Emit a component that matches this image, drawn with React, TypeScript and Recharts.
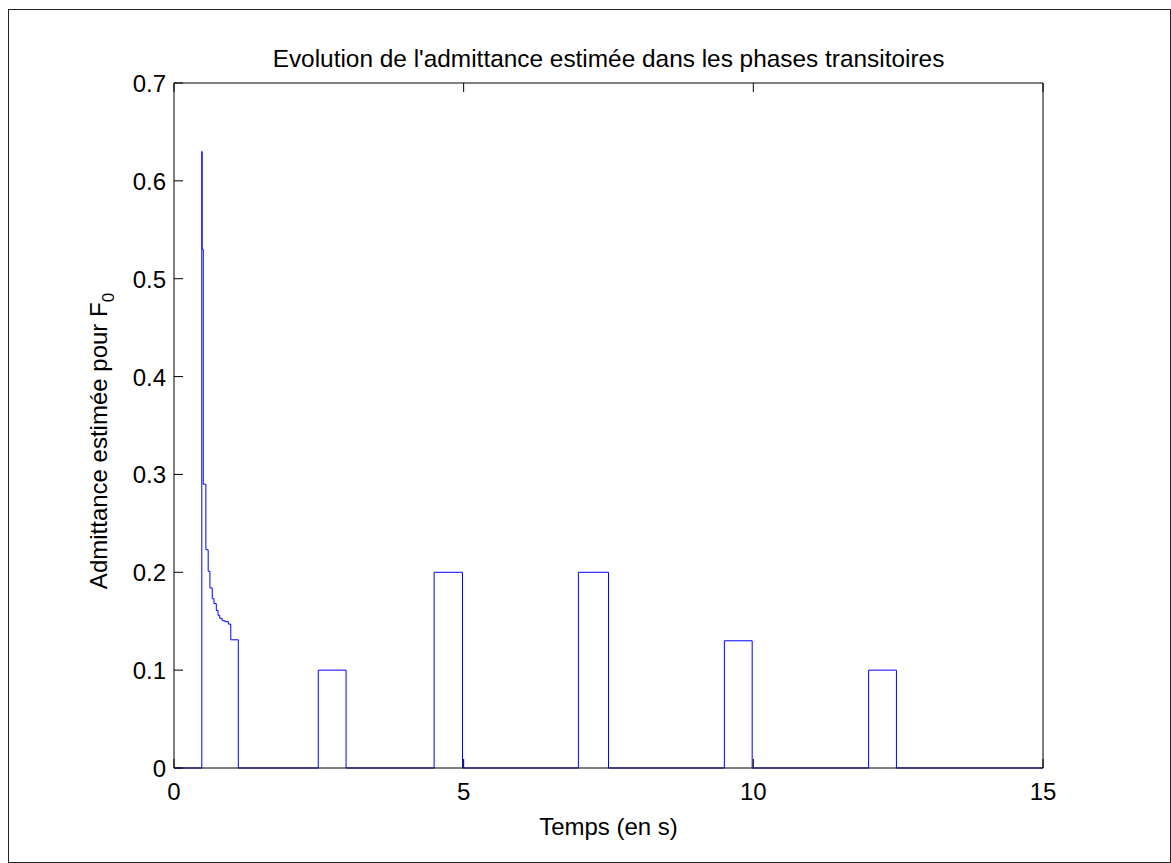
import { LineChart, Line, XAxis, YAxis } from 'recharts';

// breakpoints of the estimated admittance (value held until the next time)
const TIMES = [
  0, 0.48, 0.485, 0.505, 0.55, 0.59, 0.62, 0.66, 0.69, 0.73, 0.76, 0.79, 0.83, 0.88, 0.94, 0.98, 1.11,
  2.49, 2.97, 4.49, 4.98, 6.98, 7.5, 9.5, 9.98, 11.99, 12.47, 15,
];
const ADMITTANCE = [
  0, 0.63, 0.53, 0.29, 0.223, 0.201, 0.184, 0.173, 0.168, 0.161, 0.156, 0.153, 0.1505, 0.1495, 0.147, 0.131, 0,
  0.1, 0, 0.2, 0, 0.2, 0, 0.13, 0, 0.1, 0, 0,
];

const X_TICKS = [0, 5, 10, 15];
const Y_TICKS = [0, 0.1, 0.2, 0.3, 0.4, 0.5, 0.6, 0.7];

const TITLE = "Evolution de l'admittance estimée dans les phases transitoires";
const X_LABEL = 'Temps (en s)';
const Y_LABEL = 'Admittance estimée pour F';

const data = TIMES.map((t, i) => ({ t, v: ADMITTANCE[i] }));

const FONT = '"Liberation Sans", Arial, sans-serif';
const TICK_LEN = 9;

// MATLAB style ticks: pointing inward, labels on left/bottom only
const BottomTick = ({ x, y, payload }: any) => (
  <g>
    <line x1={x} x2={x} y1={y} y2={y - TICK_LEN} stroke="#000" />
    <text x={x} y={y + 32} textAnchor="middle" fontSize={24} fontFamily={FONT} fill="#000">
      {payload.value}
    </text>
  </g>
);

const LeftTick = ({ x, y, payload }: any) => (
  <g>
    <line x1={x} x2={x + TICK_LEN} y1={y} y2={y} stroke="#000" />
    <text x={x - 8} y={y + 9} textAnchor="end" fontSize={24} fontFamily={FONT} fill="#000">
      {payload.value}
    </text>
  </g>
);

const TopTick = ({ x, y }: any) => <line x1={x} x2={x} y1={y} y2={y + TICK_LEN} stroke="#000" />;
const RightTick = ({ x, y }: any) => <line x1={x} x2={x - TICK_LEN} y1={y} y2={y} stroke="#000" />;

export default function App() {
  return (
    <div style={{ position: 'absolute', left: 0, top: 0, width: 1171, height: 863, background: '#fff' }}>
      <div
        style={{
          position: 'absolute',
          left: 8,
          top: 9,
          width: 1163,
          height: 854,
          boxSizing: 'border-box',
          border: '1px solid #222',
        }}
      />
      <div style={{ position: 'absolute', left: 9, top: 10 }}>
        <LineChart width={1161} height={852} data={data} margin={{ top: 53, right: 107, left: 105, bottom: 64 }}>
          <XAxis
            dataKey="t"
            type="number"
            domain={[0, 15]}
            ticks={X_TICKS}
            interval={0}
            height={30}
            tickSize={0}
            tickMargin={0}
            tick={<BottomTick />}
            axisLine={{ stroke: '#000' }}
          />
          <XAxis
            xAxisId="top"
            orientation="top"
            dataKey="t"
            type="number"
            domain={[0, 15]}
            ticks={X_TICKS}
            interval={0}
            height={20}
            tickSize={0}
            tickMargin={0}
            tick={<TopTick />}
            axisLine={{ stroke: '#000' }}
          />
          <YAxis
            type="number"
            domain={[0, 0.7]}
            ticks={Y_TICKS}
            interval={0}
            width={60}
            tickSize={0}
            tickMargin={0}
            tick={<LeftTick />}
            axisLine={{ stroke: '#000' }}
          />
          <YAxis
            yAxisId="right"
            orientation="right"
            type="number"
            domain={[0, 0.7]}
            ticks={Y_TICKS}
            interval={0}
            width={20}
            tickSize={0}
            tickMargin={0}
            tick={<RightTick />}
            axisLine={{ stroke: '#000' }}
          />
          <Line
            type="stepAfter"
            dataKey="v"
            stroke="#0000ff"
            strokeWidth={1}
            dot={false}
            activeDot={false}
            isAnimationActive={false}
          />
        </LineChart>
      </div>
      <svg
        width={1171}
        height={863}
        style={{ position: 'absolute', left: 0, top: 0, pointerEvents: 'none' }}
      >
        <text x={608.5} y={67} textAnchor="middle" fontSize={24.4} fontFamily={FONT} fill="#000">
          {TITLE}
        </text>
        <text x={608.5} y={835} textAnchor="middle" fontSize={24} fontFamily={FONT} fill="#000">
          {X_LABEL}
        </text>
        <text
          transform="translate(107, 441) rotate(-90)"
          textAnchor="middle"
          fontSize={24}
          fontFamily={FONT}
          fill="#000"
        >
          {Y_LABEL}
          <tspan dy={7} fontSize={17}>0</tspan>
        </text>
      </svg>
    </div>
  );
}
